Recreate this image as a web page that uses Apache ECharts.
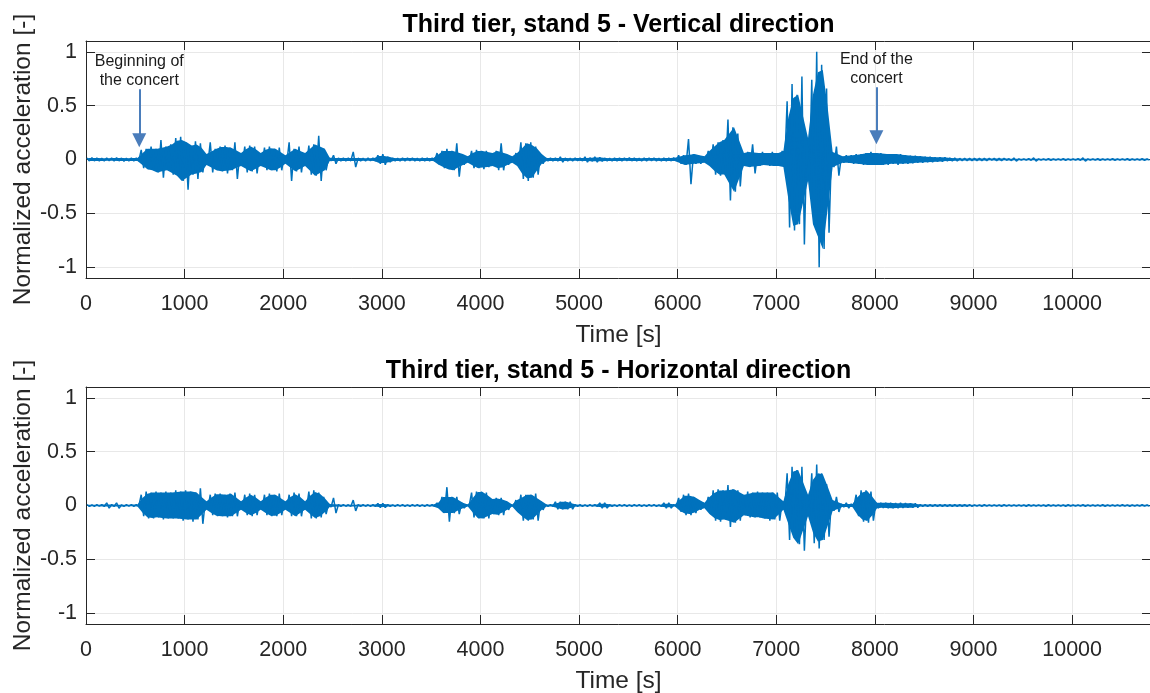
<!DOCTYPE html>
<html><head><meta charset="utf-8">
<script src="https://cdn.jsdelivr.net/npm/echarts@6/dist/echarts.min.js"></script>
<style>html,body{margin:0;padding:0;background:#fff;overflow:hidden}#c{width:1150px;height:693px}</style>
</head><body><div id="c"></div>
<script>
// ---- data (signal envelopes read per 50 s bin) ----
const BIN_SECONDS = 50;
const xTickValues = [0,1000,2000,3000,4000,5000,6000,7000,8000,9000,10000];
const yTickValues = [-1,-0.5,0,0.5,1];
const titles = ['Third tier, stand 5 - Vertical direction','Third tier, stand 5 - Horizontal direction'];
const annotationLabels = ['Beginning of\nthe concert','End of the\nconcert'];
const annotationTimes = [540, 8015];
const annotationTop = [0.653, 0.671];
const annotationHead = [0.179, 0.207];

const vertUpper = [
0.013,0.016,0.013,0.012,0.014,0.013,0.016,0.013,0.012,0.013,
0.014,0.09,0.1,0.12,0.1,0.18,0.12,0.14,0.2,0.21,
0.16,0.13,0.17,0.15,0.05,0.16,0.1,0.12,0.13,0.11,
0.16,0.06,0.12,0.13,0.12,0.06,0.11,0.12,0.1,0.11,
0.04,0.16,0.1,0.12,0.06,0.13,0.14,0.22,0.1,0.016,
0.04,0.013,0.013,0.013,0.07,0.013,0.012,0.014,0.013,0.04,
0.05,0.025,0.013,0.012,0.013,0.014,0.013,0.012,0.013,0.014,
0.013,0.06,0.08,0.1,0.08,0.15,0.05,0.03,0.08,0.09,
0.08,0.08,0.06,0.08,0.15,0.05,0.03,0.06,0.16,0.15,
0.16,0.12,0.05,0.013,0.014,0.013,0.025,0.013,0.012,0.013,
0.014,0.025,0.016,0.025,0.02,0.013,0.012,0.013,0.014,0.013,
0.016,0.013,0.012,0.013,0.014,0.013,0.012,0.013,0.014,0.016,
0.04,0.04,0.19,0.05,0.04,0.03,0.08,0.14,0.16,0.18,
0.37,0.3,0.24,0.06,0.07,0.14,0.06,0.07,0.06,0.07,
0.06,0.08,0.54,0.7,0.6,0.77,0.2,0.74,1.0,0.88,
0.66,0.07,0.12,0.03,0.04,0.04,0.05,0.05,0.06,0.07,
0.06,0.06,0.05,0.05,0.05,0.05,0.04,0.035,0.035,0.03,
0.025,0.025,0.02,0.02,0.02,0.015,0.015,0.01,0.01,0.01,
0.01,0.01,0.01,0.01,0.01,0.01,0.01,0.007,0.015,0.006,
0.006,0.007,0.015,0.006,0.006,0.007,0.006,0.006,0.007,0.006,
0.006,0.007,0.015,0.006,0.006,0.007,0.006,0.006,0.007,0.006,
0.006,0.007,0.006,0.006,0.007,0.006
];
const vertLower = [
-0.013,-0.013,-0.014,-0.013,-0.012,-0.014,-0.013,-0.016,-0.013,-0.013,
-0.013,-0.08,-0.09,-0.1,-0.12,-0.17,-0.1,-0.14,-0.15,-0.2,
-0.28,-0.14,-0.18,-0.12,-0.05,-0.12,-0.1,-0.11,-0.13,-0.1,
-0.18,-0.06,-0.12,-0.11,-0.13,-0.06,-0.1,-0.1,-0.11,-0.1,
-0.04,-0.2,-0.11,-0.12,-0.06,-0.14,-0.15,-0.2,-0.1,-0.013,
-0.04,-0.013,-0.014,-0.013,-0.07,-0.013,-0.013,-0.012,-0.014,-0.04,
-0.05,-0.025,-0.013,-0.013,-0.014,-0.012,-0.013,-0.013,-0.014,-0.013,
-0.013,-0.05,-0.08,-0.09,-0.1,-0.16,-0.05,-0.03,-0.08,-0.08,
-0.09,-0.07,-0.06,-0.1,-0.1,-0.05,-0.03,-0.06,-0.18,-0.2,
-0.17,-0.14,-0.04,-0.013,-0.013,-0.014,-0.025,-0.013,-0.013,-0.012,
-0.013,-0.025,-0.016,-0.025,-0.016,-0.013,-0.013,-0.014,-0.013,-0.012,
-0.013,-0.014,-0.013,-0.013,-0.012,-0.013,-0.013,-0.014,-0.013,-0.013,
-0.04,-0.05,-0.23,-0.04,-0.04,-0.03,-0.06,-0.14,-0.15,-0.14,
-0.38,-0.3,-0.25,-0.06,-0.07,-0.13,-0.06,-0.05,-0.06,-0.06,
-0.06,-0.07,-0.63,-0.66,-0.6,-0.79,-0.2,-0.6,-1.0,-0.83,
-0.68,-0.07,-0.15,-0.03,-0.03,-0.04,-0.04,-0.05,-0.05,-0.05,
-0.05,-0.05,-0.05,-0.04,-0.05,-0.04,-0.04,-0.035,-0.03,-0.03,
-0.025,-0.025,-0.02,-0.02,-0.015,-0.015,-0.015,-0.01,-0.01,-0.01,
-0.01,-0.01,-0.01,-0.007,-0.01,-0.01,-0.007,-0.01,-0.015,-0.006,
-0.006,-0.007,-0.015,-0.006,-0.006,-0.007,-0.006,-0.006,-0.007,-0.006,
-0.006,-0.007,-0.015,-0.006,-0.006,-0.007,-0.006,-0.006,-0.007,-0.006,
-0.006,-0.007,-0.006,-0.006,-0.007,-0.006
];
const horizUpper = [
0.009,0.007,0.009,0.009,0.025,0.009,0.025,0.007,0.009,0.009,
0.009,0.1,0.13,0.12,0.13,0.12,0.13,0.12,0.14,0.13,
0.14,0.13,0.12,0.16,0.04,0.1,0.11,0.11,0.1,0.11,
0.12,0.04,0.1,0.11,0.1,0.04,0.1,0.11,0.1,0.11,
0.04,0.1,0.12,0.11,0.04,0.13,0.14,0.12,0.08,0.015,
0.07,0.009,0.009,0.007,0.05,0.009,0.009,0.007,0.009,0.02,
0.02,0.009,0.007,0.009,0.009,0.007,0.009,0.009,0.007,0.009,
0.009,0.025,0.08,0.17,0.08,0.08,0.025,0.009,0.12,0.13,
0.13,0.12,0.06,0.07,0.07,0.04,0.009,0.05,0.1,0.1,
0.1,0.11,0.04,0.009,0.009,0.035,0.035,0.035,0.035,0.009,
0.009,0.007,0.009,0.009,0.025,0.025,0.009,0.007,0.009,0.009,
0.007,0.009,0.009,0.007,0.009,0.009,0.007,0.025,0.025,0.009,
0.07,0.1,0.11,0.08,0.05,0.025,0.08,0.14,0.15,0.14,
0.19,0.15,0.14,0.1,0.13,0.12,0.13,0.12,0.12,0.12,
0.12,0.04,0.3,0.36,0.33,0.36,0.1,0.3,0.38,0.3,
0.2,0.05,0.08,0.015,0.025,0.015,0.1,0.14,0.14,0.13,
0.025,0.025,0.025,0.025,0.022,0.025,0.022,0.02,0.02,0.009,
0.009,0.009,0.009,0.009,0.009,0.009,0.009,0.009,0.009,0.009,
0.006,0.006,0.007,0.006,0.006,0.006,0.007,0.006,0.006,0.006,
0.006,0.007,0.006,0.006,0.006,0.007,0.006,0.006,0.006,0.007,
0.006,0.006,0.007,0.006,0.006,0.006,0.007,0.006,0.006,0.006,
0.007,0.006,0.006,0.006,0.007,0.006
];
const horizLower = [
-0.009,-0.009,-0.007,-0.009,-0.025,-0.009,-0.025,-0.009,-0.007,-0.009,
-0.009,-0.1,-0.12,-0.12,-0.11,-0.13,-0.12,-0.12,-0.12,-0.14,
-0.13,-0.15,-0.13,-0.17,-0.04,-0.09,-0.1,-0.1,-0.11,-0.1,
-0.1,-0.04,-0.09,-0.1,-0.09,-0.04,-0.09,-0.1,-0.1,-0.09,
-0.04,-0.1,-0.1,-0.1,-0.04,-0.12,-0.12,-0.11,-0.08,-0.015,
-0.07,-0.009,-0.007,-0.009,-0.05,-0.009,-0.007,-0.009,-0.009,-0.02,
-0.02,-0.009,-0.009,-0.007,-0.009,-0.009,-0.007,-0.009,-0.009,-0.007,
-0.009,-0.025,-0.07,-0.15,-0.07,-0.08,-0.025,-0.009,-0.11,-0.12,
-0.12,-0.12,-0.08,-0.09,-0.09,-0.04,-0.009,-0.06,-0.14,-0.14,
-0.13,-0.14,-0.04,-0.009,-0.009,-0.035,-0.035,-0.035,-0.035,-0.009,
-0.009,-0.009,-0.007,-0.009,-0.025,-0.025,-0.009,-0.009,-0.007,-0.009,
-0.009,-0.007,-0.009,-0.009,-0.007,-0.009,-0.009,-0.025,-0.025,-0.009,
-0.06,-0.09,-0.09,-0.07,-0.04,-0.025,-0.08,-0.14,-0.15,-0.13,
-0.2,-0.16,-0.14,-0.09,-0.11,-0.11,-0.11,-0.12,-0.14,-0.13,
-0.14,-0.04,-0.32,-0.3,-0.36,-0.42,-0.1,-0.35,-0.4,-0.32,
-0.29,-0.05,-0.06,-0.015,-0.025,-0.015,-0.1,-0.15,-0.16,-0.14,
-0.025,-0.022,-0.025,-0.025,-0.025,-0.022,-0.02,-0.02,-0.02,-0.009,
-0.009,-0.009,-0.009,-0.009,-0.009,-0.009,-0.009,-0.009,-0.009,-0.009,
-0.006,-0.007,-0.006,-0.006,-0.006,-0.007,-0.006,-0.006,-0.006,-0.006,
-0.007,-0.006,-0.006,-0.006,-0.007,-0.006,-0.006,-0.006,-0.007,-0.006,
-0.006,-0.006,-0.007,-0.006,-0.006,-0.006,-0.007,-0.006,-0.006,-0.006,
-0.006,-0.007,-0.006,-0.006,-0.006,-0.007
];

// ---- build ----
const UP_OFF = 10, LO_OFF = 35, CORE_OFF = 22;   // sample positions inside each bin (s)
function zig(upper, lower){
  const out = [];
  for (let i = 0; i < upper.length; i++){
    out.push([i*BIN_SECONDS + UP_OFF, upper[i]]);
    out.push([i*BIN_SECONDS + LO_OFF, lower[i]]);
  }
  return out;
}
// dense core of the trace: a bin is filled solid only as far as its neighbours also reach on average
function bandRenderer(upper, lower){
  const n = upper.length;
  return function(params, api){
    const top = [], bot = [];
    for (let i = 0; i < n; i++){
      const a = Math.max(0, i-1), b = Math.min(n-1, i+1);
      const cu = Math.min(upper[i], (upper[a] + upper[b]) / 2);
      const cl = Math.max(lower[i], (lower[a] + lower[b]) / 2);
      top.push(api.coord([i*BIN_SECONDS + CORE_OFF, cu]));
      bot.push(api.coord([i*BIN_SECONDS + CORE_OFF, cl]));
    }
    return {type:'polygon', shape:{points:top.concat(bot.reverse())}, style:{fill:'#0072BD'}, silent:true};
  };
}
const FONT = '"Liberation Sans", Arial, Helvetica, sans-serif';
const TXT = '#262626';
const GRIDC = '#e8e8e8';
const gridTops = [41, 387];
const grids = gridTops.map(t => ({left:86, top:t, width:1065, height:237, containLabel:false, outerBoundsMode:'none'}));
const fmt = v => String(v);

function xAx(gi, pos){
  const main = pos === 'bottom';
  return {
    type:'value', gridIndex:gi, position:pos, min:0, max:10800,
    name: main ? 'Time [s]' : '', nameLocation:'middle', nameGap:45, nameMoveOverlap:false,
    nameTextStyle:{fontFamily:FONT, fontSize:24.5, color:TXT},
    axisLine:{show:true, onZero:false, lineStyle:{color:TXT, width:1}},
    axisTick:{show:true, inside:true, length:9, customValues:xTickValues, lineStyle:{color:TXT}},
    axisLabel:{show:main, customValues:xTickValues, formatter:fmt, fontFamily:FONT, fontSize:21.5, color:TXT, margin:15},
    splitLine:{show:main, lineStyle:{color:GRIDC, width:1}}
  };
}
function yAx(gi, pos){
  const main = pos === 'left';
  return {
    type:'value', gridIndex:gi, position:pos, min:-1.1, max:1.1,
    name: main ? 'Normalized acceleration [-]' : '', nameLocation:'middle', nameGap:50, nameRotate:90, nameMoveOverlap:false,
    nameTextStyle:{fontFamily:FONT, fontSize:24.5, color:TXT},
    axisLine:{show:true, onZero:false, lineStyle:{color:TXT, width:1}},
    axisTick:{show:true, inside:true, length:9, customValues:yTickValues, lineStyle:{color:TXT}},
    axisLabel:{show:main, customValues:yTickValues, formatter:fmt, fontFamily:FONT, fontSize:21.5, color:TXT, margin:9},
    splitLine:{show:main, lineStyle:{color:GRIDC, width:1}}
  };
}

const ARROWC = '#4a7dbb';
const option = {
  animation:false,
  backgroundColor:'#fff',
  title: titles.map((t,i)=>({
    text:t, left:613.5, textAlign:'center', top: i===0 ? 8 : 354,
    textStyle:{fontFamily:FONT, fontSize:25, fontWeight:'bold', color:'#000'}
  })),
  grid: grids,
  xAxis:[xAx(0,'bottom'), xAx(0,'top'), xAx(1,'bottom'), xAx(1,'top')],
  yAxis:[yAx(0,'left'), yAx(0,'right'), yAx(1,'left'), yAx(1,'right')],
  series:[
    {
      type:'custom', coordinateSystem:'cartesian2d', xAxisIndex:0, yAxisIndex:0,
      data:[[0, 0]], renderItem:bandRenderer(vertUpper, vertLower), clip:true, silent:true, z:2
    },
    {
      type:'line', xAxisIndex:0, yAxisIndex:0, data:zig(vertUpper, vertLower),
      showSymbol:false, symbol:'none', clip:true, silent:true, z:3,
      lineStyle:{color:'#0072BD', width:1.5},
      markLine:{
        silent:true, symbol:['none','triangle'], symbolSize:14,
        itemStyle:{color:ARROWC},
        lineStyle:{color:ARROWC, width:2, type:'solid'},
        label:{show:true, position:'start', distance:-1, fontFamily:FONT, fontSize:16, lineHeight:19, color:'#1a1a1a'},
        emphasis:{disabled:true},
        data: annotationLabels.map((lab,k) => [
          {coord:[annotationTimes[k], annotationTop[k]], label:{formatter:lab}},
          {coord:[annotationTimes[k], annotationHead[k]]}
        ])
      }
    },
    {
      type:'custom', coordinateSystem:'cartesian2d', xAxisIndex:2, yAxisIndex:2,
      data:[[0, 0]], renderItem:bandRenderer(horizUpper, horizLower), clip:true, silent:true, z:2
    },
    {
      type:'line', xAxisIndex:2, yAxisIndex:2, data:zig(horizUpper, horizLower),
      showSymbol:false, symbol:'none', clip:true, silent:true, z:3,
      lineStyle:{color:'#0072BD', width:1.5}
    }
  ]
};
const chart = echarts.init(document.getElementById('c'), null, {renderer:'canvas'});
chart.setOption(option);
</script></body></html>
